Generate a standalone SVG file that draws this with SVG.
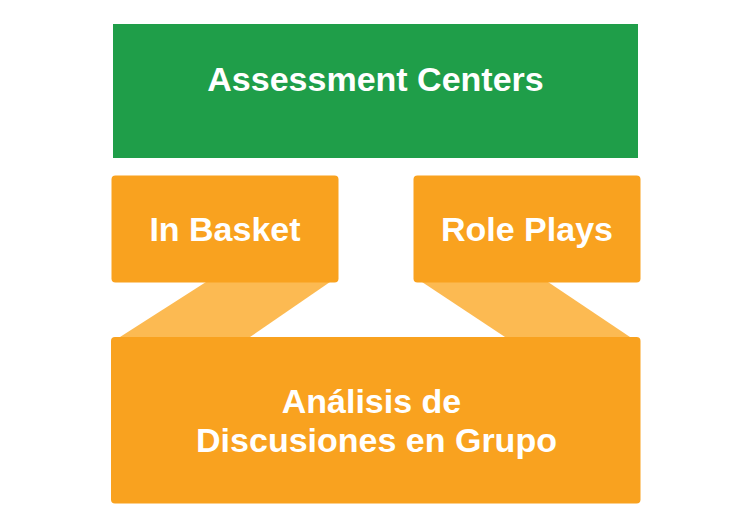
<svg xmlns="http://www.w3.org/2000/svg" width="755" height="530" viewBox="0 0 755 530">
  <style>
    .lbl { font-family: "Liberation Sans", Arial, sans-serif; font-weight: bold; font-size: 34px; fill: #ffffff; text-anchor: middle; }
    .box { fill: #F9A21F; }
    .band { fill: #FCBA52; }
  </style>
  <rect width="755" height="530" fill="#ffffff"/>

  <!-- connectors: translucent bands from the upper boxes to the lower box -->
  <g id="connectors">
    <polygon class="band" points="206,282 330,282 250,337 120,337"/>
    <polygon class="band" points="422,282 548,282 630,337 505,337"/>
  </g>

  <g id="assessment-centers">
    <rect x="113" y="24" width="525" height="134" fill="#1F9E49"/>
    <text class="lbl" x="375.5" y="91">Assessment Centers</text>
  </g>

  <g id="in-basket">
    <rect class="box" x="111.5" y="175.5" width="227" height="107" rx="4"/>
    <text class="lbl" x="225" y="241">In Basket</text>
  </g>

  <g id="role-plays">
    <rect class="box" x="413.5" y="175.5" width="227" height="107" rx="4"/>
    <text class="lbl" x="527" y="241">Role Plays</text>
  </g>

  <g id="analisis">
    <rect class="box" x="111" y="337" width="529.5" height="166.5" rx="4"/>
    <text class="lbl" x="371.5" y="412.5">Análisis de</text>
    <text class="lbl" x="376.5" y="452">Discusiones en Grupo</text>
  </g>
</svg>
